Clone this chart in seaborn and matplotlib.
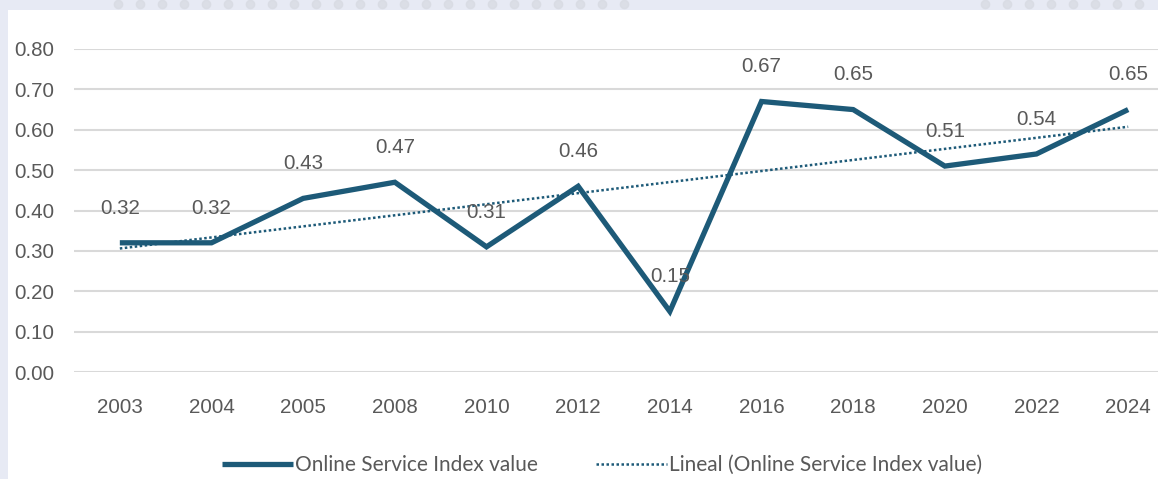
import numpy as np
import pandas as pd
import matplotlib
matplotlib.use("Agg")
import matplotlib.pyplot as plt
import seaborn as sns

years = ["2003", "2004", "2005", "2008", "2010", "2012", "2014", "2016", "2018", "2020", "2022", "2024"]
values = [0.32, 0.32, 0.43, 0.47, 0.31, 0.46, 0.15, 0.67, 0.65, 0.51, 0.54, 0.65]
series_name = "Online Service Index value"
trend_name = "Lineal (Online Service Index value)"
yticks = [0.0, 0.1, 0.2, 0.3, 0.4, 0.5, 0.6, 0.7, 0.8]

sns.set_theme(style="white")
plt.rcParams['font.family'] = ['Liberation Sans', 'DejaVu Sans']

line_color = "#1d5a78"
text_color = "#595959"

df = pd.DataFrame({"year": years, "value": values})
df["idx"] = np.arange(len(df))
coef = np.polyfit(df["idx"], df["value"], 1)
df["trend"] = np.polyval(coef, df["idx"])

W, H = 1158, 479
fig = plt.figure(figsize=(W / 100, H / 100), dpi=100)
fig.patch.set_facecolor("#e7eaf4")

# decoration axes (background page)
bg = fig.add_axes([0, 0, 1, 1])
bg.set_xlim(0, W)
bg.set_ylim(H, 0)
bg.axis("off")
bg.set_zorder(0)
bg.add_patch(plt.Rectangle((8, 10), W - 8, H - 10, facecolor="white", edgecolor="none"))
for x0, x1 in [(118, 640), (985, 1158)]:
    xs = np.arange(x0, x1, 22)
    bg.plot(xs, np.full(len(xs), 4), linestyle="none", marker="o", markersize=6,
            color="#d8dbe3", alpha=0.8, clip_on=False)

ax = fig.add_axes([74 / W, (H - 372) / H, 1100 / W, 323 / H])
ax.set_zorder(1)
ax.set_facecolor("none")

sns.lineplot(data=df, x="idx", y="value", ax=ax, color=line_color, linewidth=3.8,
             solid_joinstyle="miter", solid_capstyle="butt", label=series_name, clip_on=False, zorder=3)
sns.lineplot(data=df, x="idx", y="trend", ax=ax, color=line_color, linewidth=1.8,
             linestyle=(0, (1, 1.0)), label=trend_name, clip_on=False, zorder=2)

ax.set_xlim(-0.5, len(df) - 0.5)
ax.set_ylim(0, 0.8)
ax.set_yticks(yticks)
ax.set_yticklabels([f"{v:.2f}" for v in yticks])
ax.set_xticks(df["idx"])
ax.set_xticklabels(years)
ax.tick_params(axis="both", length=0, labelsize=14.8, colors=text_color)
ax.tick_params(axis="x", pad=19)
ax.tick_params(axis="y", pad=14)
ax.yaxis.grid(True, color="#d9d9d9", linewidth=1.5)
ax.set_axisbelow(True)
for s in ax.spines.values():
    s.set_visible(False)
ax.set_xlabel("")
ax.set_ylabel("")

for i, v in zip(df["idx"], df["value"]):
    ax.annotate(f"{v:.2f}", (i, v), xytext=(0, 25), textcoords="offset points",
                ha="center", va="center", fontsize=14.8, color=text_color, zorder=4)

leg = ax.legend(loc="upper center", bbox_to_anchor=(0.5 - 22 / 1100, -0.2), ncol=2, frameon=False,
                handlelength=3.4, columnspacing=2.8, handletextpad=0.1,
                prop={"family": "Lato", "size": 15})
for t in leg.get_texts():
    t.set_color(text_color)

fig.savefig("out.png", dpi=100, facecolor=fig.get_facecolor())
